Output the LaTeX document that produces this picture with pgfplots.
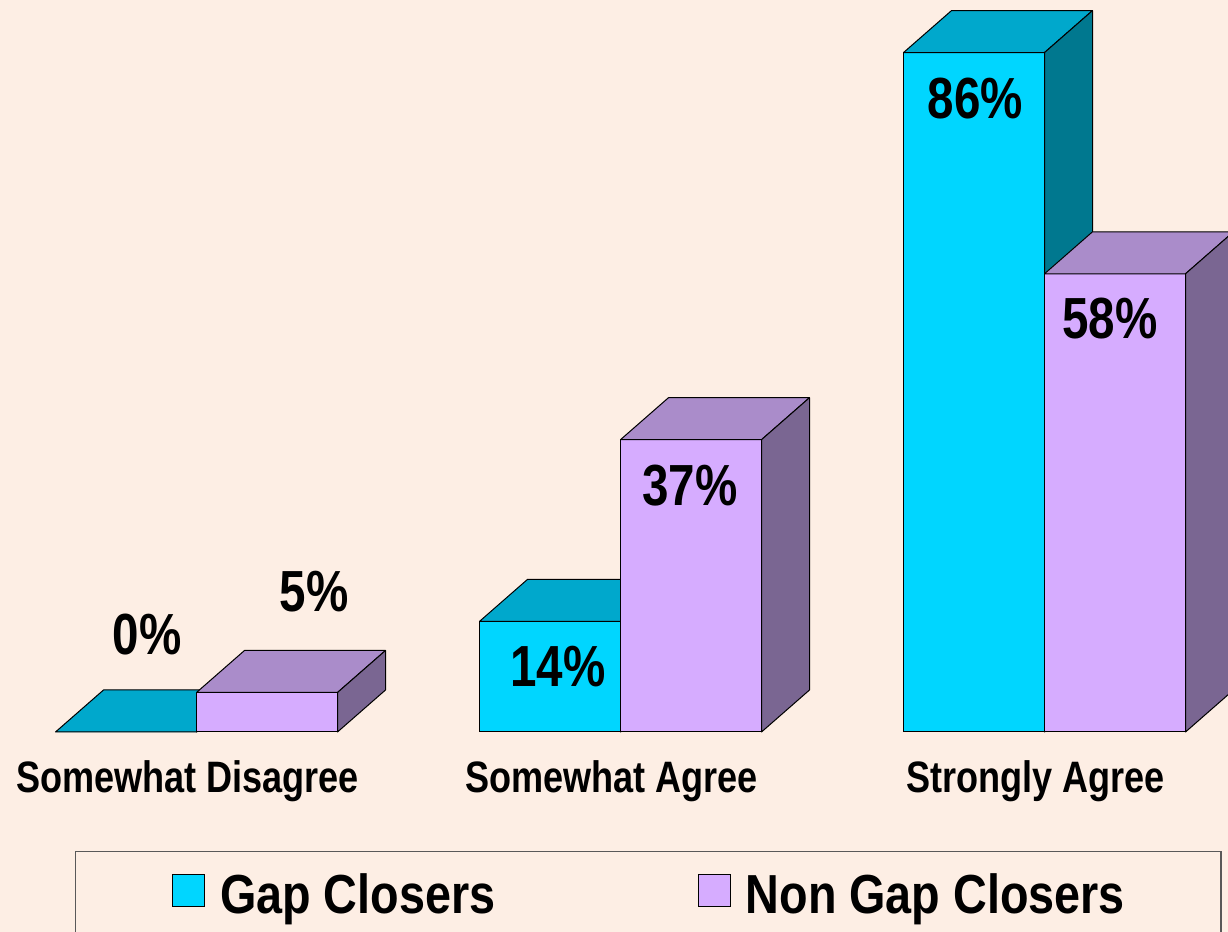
\documentclass[border=0pt]{standalone}
\usepackage{pgfplots}
\pgfplotsset{compat=1.18}
\usepackage{pgfplotstable}
\usepackage{fontspec}
\setmainfont{Liberation Sans}
\newfontfamily\narrowfont{Liberation Sans}[FakeStretch=0.82]
\newfontfamily\legfont{Liberation Sans}[FakeStretch=0.85]

\definecolor{bg}{RGB}{253,238,228}
\definecolor{gapF}{RGB}{0,214,255}
\definecolor{gapT}{RGB}{0,168,204}
\definecolor{gapS}{RGB}{0,120,143}
\definecolor{nonF}{RGB}{214,172,255}
\definecolor{nonT}{RGB}{170,140,202}
\definecolor{nonS}{RGB}{122,102,146}

\pgfdeclareplotmark{blank}{}

% x = group, y = percent, lx/ly = label offset (pt) from group centre / bar top
\pgfplotstableread{
x y  lx     ly
0 0  -24.65 38.5
1 14 -31.35 -32.8
2 86 -34.6  -32.8
}\gapdata
\pgfplotstableread{
x y  lx    ly
0 5  58.75 40.5
1 37 34.75 -32.8
2 58 32.75 -32.5
}\nondata

\pgfplotsset{
  sqleg/.style={legend image code/.code={%
    \draw[##1, line width=0.6pt] (0pt,-5.4pt) rectangle (16pt,10.6pt);}},
  % whole 3d bar: #1 front, #2 top, #3 side colour, #4 left edge
  faces/.style n args={4}{forget plot, only marks, mark=blank, scatter,
    visualization depends on={\thisrow{y} \as \vy},
    visualization depends on={\thisrow{lx} \as \lx},
    visualization depends on={\thisrow{ly} \as \ly},
    scatter/@pre marker code/.code={%
      \pgfmathsetmacro\h{\vy*3.95}%
      \pgfmathtruncatemacro\v{round(\vy)}%
      \filldraw[fill=#1, draw=black, line width=0.5pt]
        (#4,0pt) rectangle (#4+70.5pt,-\h pt);
      \filldraw[fill=#2, draw=black, line width=0.5pt, line join=round]
        (#4,0pt) -- ++(24pt,21pt) -- ++(70.5pt,0pt) -- ++(-24pt,-21pt) -- cycle;
      \filldraw[fill=#3, draw=black, line width=0.5pt, line join=round]
        (#4+70.5pt,0pt) -- ++(24pt,21pt) -- ++(0pt,-\h pt) -- ++(-24pt,-21pt) -- cycle;
      \node[anchor=base, inner sep=0pt,
        font=\narrowfont\bfseries\fontsize{29}{34}\selectfont]
        at (\lx pt,\ly pt) {\v\%};
    },
    scatter/@post marker code/.code={}},
}

\begin{document}
\begin{tikzpicture}
\fill[bg] (0,0) rectangle (614pt,466pt);
\begin{axis}[
  at={(-7.75pt,100pt)}, anchor=south west,
  x=212pt, y=3.95pt,
  xmin=-0.5, xmax=2.5, ymin=0, ymax=90,
  clip=false,
  axis line style={draw=none},
  xtick={0,1,2}, ytick=\empty,
  xticklabels={Somewhat Disagree, Somewhat Agree, Strongly Agree},
  xtick style={draw=none},
  xticklabel style={font=\narrowfont\bfseries\fontsize{22}{26}\selectfont,
    anchor=base, yshift=-30.15pt, xshift=-4.5pt},
  legend columns=2,
  legend style={at={(0.07138,-0.16737)}, anchor=north west,
    draw=black!65, line width=0.6pt, fill=bg,
    inner xsep=48pt, inner ysep=11pt,
    nodes={inner sep=0pt},
    font=\legfont\bfseries\fontsize{27.5}{32}\selectfont,
    /tikz/every odd column/.append style={column sep=7.5pt},
    /tikz/every even column/.append style={column sep=101pt}},
]
\addplot[ybar, bar width=70.5pt, bar shift=-35.25pt, fill=gapF, draw=black,
  line width=0.5pt, sqleg] table[x=x, y=y] {\gapdata};
\addlegendentry{Gap Closers}
\addplot[ybar, bar width=70.5pt, bar shift=35.25pt, fill=nonF, draw=black,
  line width=0.5pt, sqleg] table[x=x, y=y] {\nondata};
\addlegendentry{Non Gap Closers}
\addplot[faces={gapF}{gapT}{gapS}{-70.5pt}] table[x=x, y=y] {\gapdata};
\addplot[faces={nonF}{nonT}{nonS}{0pt}] table[x=x, y=y] {\nondata};
\end{axis}
\pgfresetboundingbox
\path[use as bounding box] (0,0) rectangle (614pt,466pt);
\end{tikzpicture}
\end{document}
